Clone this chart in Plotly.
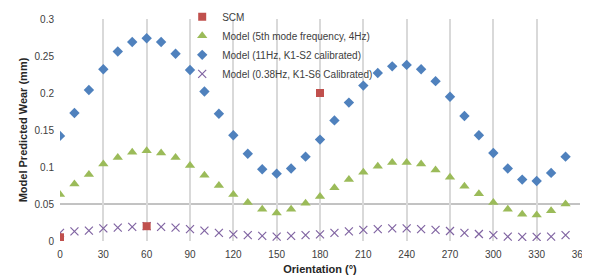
import plotly.graph_objects as go

orientation = list(range(0, 360, 10))

scm_x = [0, 60, 180]
scm_y = [0.005, 0.020, 0.200]

model_4hz = [0.063, 0.077, 0.090, 0.104, 0.113, 0.120, 0.122, 0.119, 0.113, 0.102,
             0.089, 0.075, 0.063, 0.052, 0.043, 0.038, 0.043, 0.051, 0.060, 0.072,
             0.083, 0.093, 0.101, 0.106, 0.106, 0.104, 0.096, 0.086, 0.074, 0.064,
             0.052, 0.043, 0.036, 0.035, 0.041, 0.050]

model_11hz = [0.142, 0.173, 0.204, 0.232, 0.256, 0.269, 0.274, 0.269, 0.253, 0.231,
              0.202, 0.172, 0.143, 0.118, 0.097, 0.091, 0.098, 0.114, 0.137, 0.163,
              0.187, 0.210, 0.227, 0.236, 0.238, 0.232, 0.216, 0.195, 0.169, 0.143,
              0.119, 0.098, 0.083, 0.081, 0.092, 0.114]

model_038hz = [0.011, 0.013, 0.014, 0.017, 0.018, 0.019, 0.020, 0.019, 0.018, 0.016,
               0.014, 0.011, 0.009, 0.008, 0.007, 0.006, 0.007, 0.008, 0.009, 0.011,
               0.013, 0.015, 0.016, 0.017, 0.017, 0.016, 0.015, 0.0135, 0.011, 0.0095,
               0.008, 0.006, 0.0055, 0.0055, 0.006, 0.008]

x_ticks = list(range(0, 361, 30))
y_ticks = [0, 0.05, 0.1, 0.15, 0.2, 0.25, 0.3]
y_tick_labels = ["0", "0.05", "0.1", "0.15", "0.2", "0.25", "0.3"]
base_line = 0.05

fig = go.Figure()
fig.add_trace(go.Scatter(x=orientation, y=model_038hz, mode="markers",
                         name="Model (0.38Hz, K1-S6 Calibrated)", legendrank=4,
                         marker=dict(symbol="x-thin-open", size=8, color="#8064A2",
                                     line=dict(color="#8064A2", width=1.2))))
fig.add_trace(go.Scatter(x=orientation, y=model_4hz, mode="markers",
                         name="Model (5th mode frequency, 4Hz)", legendrank=2,
                         marker=dict(symbol="triangle-up", size=9, color="#9BBB59")))
fig.add_trace(go.Scatter(x=orientation, y=model_11hz, mode="markers",
                         name="Model (11Hz, K1-S2 calibrated)", legendrank=3,
                         marker=dict(symbol="diamond", size=8, color="#4F81BD")))
fig.add_trace(go.Scatter(x=scm_x, y=scm_y, mode="markers", name="SCM", legendrank=1,
                         marker=dict(symbol="square", size=8, color="#C0504D")))

fig.add_shape(type="line", xref="x", yref="y", x0=0, x1=360, y0=base_line, y1=base_line,
              line=dict(color="#868686", width=1), layer="below")

font_family = "Liberation Sans, Arial, sans-serif"

fig.update_layout(
    width=590, height=276,
    margin=dict(l=52, r=18, t=11, b=43, autoexpand=False),
    paper_bgcolor="white", plot_bgcolor="white",
    font=dict(family=font_family, size=10, color="#404040"),
    showlegend=True,
    legend=dict(x=0.235, y=1.075, xanchor="left", yanchor="top",
                bgcolor="rgba(0,0,0,0)", font=dict(size=10, color="#404040"),
                traceorder="normal", itemwidth=30, tracegroupgap=0),
    xaxis=dict(range=[0, 360], tickvals=x_ticks, showgrid=True,
               gridcolor="#D9D9D9", gridwidth=2, zeroline=False, showline=False,
               ticks="", ticklabelstandoff=6, ticklabeloverflow="allow",
               tickfont=dict(size=10, color="#404040"),
               title=dict(text="<b>Orientation (°)</b>", font=dict(size=11, color="#262626"),
                          standoff=6)),
    yaxis=dict(range=[0, 0.3], tickvals=y_ticks, ticktext=y_tick_labels, showgrid=False,
               zeroline=False, showline=False, ticks="", ticklabelstandoff=5,
               tickfont=dict(size=10, color="#404040"),
               title=dict(text="<b>Model Predicted Wear (mm)</b>",
                          font=dict(size=11, color="#262626"), standoff=4)),
)

fig.write_html("out.html")
